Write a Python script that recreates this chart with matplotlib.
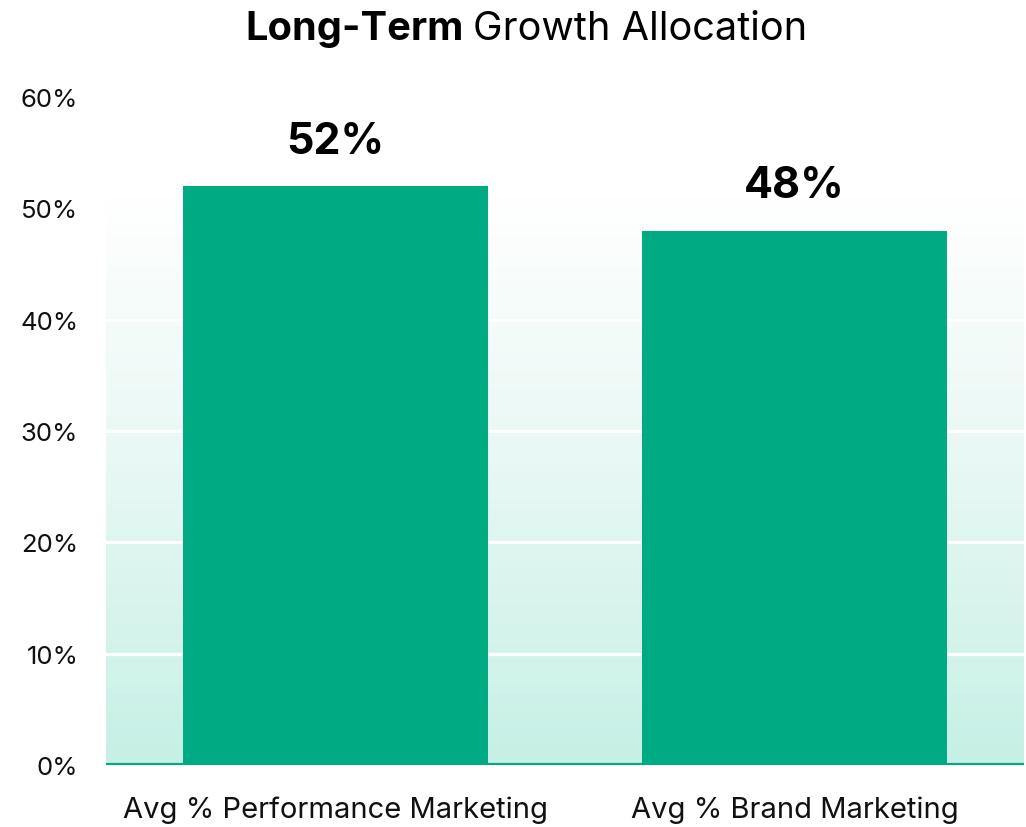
import numpy as np
import matplotlib
matplotlib.use('Agg')
import matplotlib.pyplot as plt
from matplotlib.colors import LinearSegmentedColormap

categories = ['Avg % Performance Marketing', 'Avg % Brand Marketing']
values = [52, 48]
yticks = [0, 10, 20, 30, 40, 50, 60]

green = '#00AB84'
plt.rcParams['font.family'] = ['Inter', 'DejaVu Sans']

fig = plt.figure(figsize=(10.26, 8.28), dpi=100)
ax = fig.add_axes([106 / 1026, 1 - 766 / 828, 918 / 1026, 668 / 828])

# background gradient, white near the top to mint at the bottom
cmap = LinearSegmentedColormap.from_list(
    'bg', [(0, '#C6F0E5'), (0.45, '#E8F8F4'), (0.85, '#FFFFFF'), (1, '#FFFFFF')])
grad = np.linspace(0, 1, 256).reshape(-1, 1)
ax.imshow(grad, aspect='auto', cmap=cmap, origin='lower',
          extent=[0, 1, 0, 1], transform=ax.transAxes, zorder=0)

x = np.arange(len(categories))
ax.bar(x, values, width=0.665, color=green, zorder=3)

for xi, v in zip(x, values):
    ax.text(xi, v + 2.2, f'{v}%', ha='center', va='bottom',
            fontsize=31, fontweight='bold', color='black', zorder=4)

for t in yticks[1:-1]:
    ax.axhline(t, color='white', lw=2.3, zorder=1)
ax.axhline(0, color=green, lw=3, zorder=4)

ax.set_xlim(-0.5, 1.5)
ax.set_ylim(0, 60)
ax.set_yticks(yticks)
ax.set_yticklabels([f'{t}%' for t in yticks])
ax.set_xticks(x)
ax.set_xticklabels(categories)
ax.tick_params(axis='y', length=0, pad=20, labelsize=18.5, labelcolor='#111111')
ax.tick_params(axis='x', length=0, pad=22, labelsize=21, labelcolor='#111111')
for s in ax.spines.values():
    s.set_visible(False)

fig.text(464 / 1026, 1 - 40 / 828, 'Long-Term', ha='right', va='baseline',
         fontsize=28.6, fontweight='bold')
fig.text(473 / 1026, 1 - 40 / 828, 'Growth Allocation', ha='left', va='baseline',
         fontsize=28.6)

fig.savefig('out.png', dpi=100, facecolor='white')
